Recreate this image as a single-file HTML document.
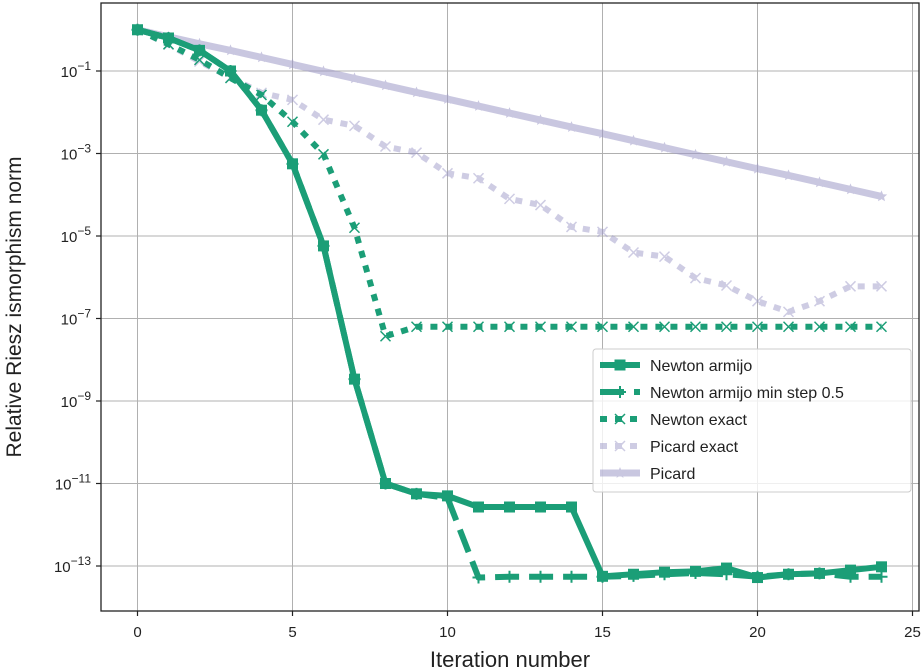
<!DOCTYPE html>
<html><head><meta charset="utf-8"><style>
body{margin:0;background:#fff;}
svg{display:block;font-family:"Liberation Sans","DejaVu Sans",sans-serif;}
</style></head><body>
<svg id="chart" width="922" height="671" viewBox="0 0 922 671" xmlns="http://www.w3.org/2000/svg">
<g id="grid"></g>
<g id="series"></g>
<rect x="101" y="3" width="818" height="608" fill="none" stroke="#222" stroke-width="1.3"/>
<g id="axes"></g>
<text x="510" y="667" font-size="22" text-anchor="middle" fill="#222">Iteration number</text>
<text transform="translate(21,307) rotate(-90)" font-size="21" text-anchor="middle" fill="#222">Relative Riesz ismorphism norm</text>
<g id="legend"></g>
</svg>
<script>
const iterations=[0,1,2,3,4,5,6,7,8,9,10,11,12,13,14,15,16,17,18,19,20,21,22,23,24];
const newtonArmijo=[0,-0.2,-0.5,-1.0,-1.95,-3.25,-5.24,-8.47,-11.0,-11.25,-11.3,-11.57,-11.57,-11.57,-11.57,-13.25,-13.2,-13.15,-13.13,-13.05,-13.28,-13.2,-13.18,-13.1,-13.02];
const newtonArmijoMin=[0,-0.2,-0.5,-1.0,-1.95,-3.25,-5.24,-8.47,-11.0,-11.25,-11.35,-13.28,-13.26,-13.26,-13.26,-13.26,-13.24,-13.2,-13.17,-13.2,-13.26,-13.2,-13.18,-13.26,-13.26];
const newtonExact=[0,-0.35,-0.73,-1.17,-1.58,-2.23,-3.02,-4.8,-7.43,-7.2,-7.2,-7.2,-7.2,-7.2,-7.2,-7.2,-7.2,-7.2,-7.2,-7.2,-7.2,-7.2,-7.2,-7.2,-7.2];
const picardExact=[0,-0.36,-0.77,-1.16,-1.53,-1.7,-2.18,-2.33,-2.83,-2.98,-3.48,-3.6,-4.1,-4.25,-4.78,-4.9,-5.4,-5.5,-6.02,-6.2,-6.58,-6.84,-6.58,-6.22,-6.22];
const picard=[0,-0.17,-0.34,-0.5,-0.67,-0.84,-1.01,-1.18,-1.35,-1.52,-1.68,-1.85,-2.02,-2.19,-2.36,-2.52,-2.69,-2.86,-3.03,-3.2,-3.37,-3.53,-3.7,-3.87,-4.04];
const xTicks=[0,5,10,15,20,25];
const yTickExps=[-1,-3,-5,-7,-9,-11,-13];

const NS="http://www.w3.org/2000/svg";
const X=v=>137.5+31.0*v;
const Y=e=>71+(-1-e)*41.25;
function mk(tag,attrs,parent){const el=document.createElementNS(NS,tag);for(const k in attrs)el.setAttribute(k,attrs[k]);parent.appendChild(el);return el;}
const grid=document.getElementById('grid'),axes=document.getElementById('axes'),series=document.getElementById('series'),legend=document.getElementById('legend');
xTicks.forEach(t=>{
  const l=mk('line',{x1:X(t),x2:X(t),y1:3,y2:611,stroke:'#b0b0b0','stroke-width':1},grid);
  
  
  const tk=mk('line',{x1:X(t),x2:X(t),y1:611,y2:616,stroke:'#222','stroke-width':1.2},axes);
  
  
  const tx=mk('text',{x:X(t),y:637,'font-size':15,'text-anchor':'middle',fill:'#222'},axes);
  tx.textContent=t;
  
  
});
yTickExps.forEach(e=>{
  const y=Y(e);
  const l=mk('line',{x1:101,x2:919,y1:y,y2:y,stroke:'#b0b0b0','stroke-width':1},grid);
  
  
  const tk=mk('line',{x1:96,x2:101,y1:y,y2:y,stroke:'#222','stroke-width':1.2},axes);
  
  
  const tx=mk('text',{x:91,y:y+6,'font-size':15,'text-anchor':'end',fill:'#222'},axes);
  tx.innerHTML='10<tspan dy="-7" font-size="12">\u2212'+(-e)+'</tspan>';
  
  
});
function pts(arr){return arr.map((v,i)=>X(iterations[i])+','+Y(v)).join(' ');}
function marker(g,type,x,y,color,s){
  if(type==='square')return mk('rect',{x:x-s,y:y-s,width:2*s,height:2*s,fill:color},g);
  if(type==='plus')return mk('path',{d:`M${x-s},${y}H${x+s}M${x},${y-s}V${y+s}`,stroke:color,'stroke-width':2,fill:'none'},g);
  if(type==='x')return mk('path',{d:`M${x-s},${y-s}L${x+s},${y+s}M${x-s},${y+s}L${x+s},${y-s}`,stroke:color,'stroke-width':1.5,fill:'none'},g);
  if(type==='star'){let d='';for(let k=0;k<10;k++){const r=k%2?s*0.45:s;const a=-Math.PI/2+k*Math.PI/5;d+=(k?'L':'M')+(x+r*Math.cos(a))+','+(y+r*Math.sin(a));}return mk('path',{d:d+'Z',fill:color},g);}
}
const defs=[
 {name:'picard',data:picard,color:'#9e9ac8',op:0.55,w:7,dash:'',m:'star',ms:6,label:'Picard'},
 {name:'picard-exact',data:picardExact,color:'#9e9ac8',op:0.5,w:6,dash:'7,8',m:'x',ms:5,label:'Picard exact'},
 {name:'newton-exact',data:newtonExact,color:'#1b9e77',op:1,w:6,dash:'7,8',m:'x',ms:5,label:'Newton exact'},
 {name:'newton-armijo-min-step',data:newtonArmijoMin,color:'#1b9e77',op:1,w:6,dash:'24,10',m:'plus',ms:6,label:'Newton armijo min step 0.5'},
 {name:'newton-armijo',data:newtonArmijo,color:'#1b9e77',op:1,w:6,dash:'',m:'square',ms:5.5,label:'Newton armijo'}
];
defs.forEach(s=>{
  const g=mk('g',{opacity:s.op},series);
  
  
  const pl=mk('polyline',{points:pts(s.data),fill:'none',stroke:s.color,'stroke-width':s.w,'stroke-dasharray':s.dash,'stroke-linejoin':'round'},g);
  
  
  s.data.forEach((v,i)=>{
    const m=marker(g,s.m,X(iterations[i]),Y(v),s.color,s.ms);
    
    
  });
});
const lb=mk('rect',{x:593,y:349,width:318,height:143,rx:3,fill:'#fff','fill-opacity':0.8,stroke:'#ccc'},legend);


[...defs].reverse().forEach((s,k)=>{
  const y=365+k*27;
  const g=mk('g',{opacity:s.op},legend);
  
  
  const ln=mk('line',{x1:600,x2:640,y1:y,y2:y,stroke:s.color,'stroke-width':s.w,'stroke-dasharray':s.dash},g);
  
  
  const m=marker(g,s.m,620,y,s.color,s.ms);
  
  
  const t=mk('text',{x:650,y:y+6,'font-size':16,fill:'#222'},legend);
  t.textContent=s.label;
  
  
});
</script>
</body></html>
